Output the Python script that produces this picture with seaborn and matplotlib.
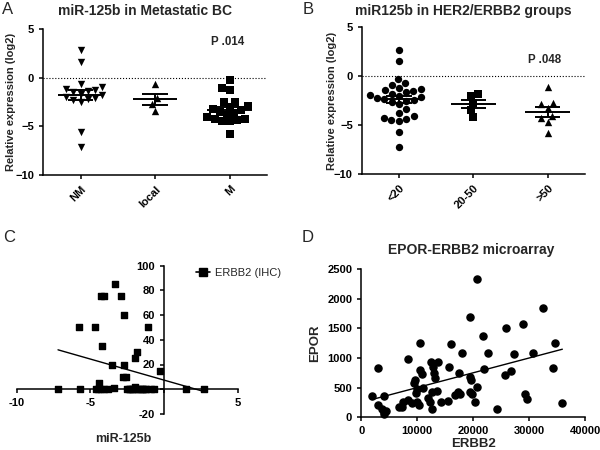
import numpy as np
import matplotlib
matplotlib.use("Agg")
import matplotlib.pyplot as plt
from matplotlib.lines import Line2D
import seaborn as sns

# Panel A: miR-125b by metastatic status
meta_groups = ["NM", "local", "M"]
nm_vals = [2.8, 1.6, -0.7, -1.0, -1.2, -1.3, -1.4, -1.5, -1.7, -1.8, -2.0, -2.1, -2.2, -2.3, -2.5, -5.6, -7.1]
local_vals = [-0.7, -2.1, -2.7, -3.4]
m_vals = [-0.2, -1.1, -1.3, -2.5, -2.5, -2.9, -3.0, -3.2, -3.3, -3.5, -3.6, -3.8, -4.0, -4.2, -4.3, -4.4, -4.5, -4.5, -5.8]

# Panel B / C: miR-125b and ERBB2 IHC score by HER2 group
her2_groups = ["<20", "20-50", ">50"]
low_mir = [2.7, 1.5, -0.3, -0.7, -0.9, -1.2, -1.3, -1.4, -1.5, -1.6, -1.8, -1.9, -2.0, -2.1, -2.2,
           -2.3, -2.4, -2.5, -2.6, -2.8, -3.4, -3.8, -4.1, -4.3, -4.4, -4.5, -4.6, -5.7, -7.2]
low_ihc = [0, 0, 15, 0, 0, 0, 0, 0, 0, 0, 0, 0, 2, 0, 0,
           0, 0, 0, 10, 10, 1, 0, 0, 0, 5, 0, 0, 0, 0]
mid_mir = [-1.85, -2.0, -2.7, -3.5, -4.2]
mid_ihc = [30, 25, 20, 20, 35]
high_mir = [-1.1, -2.75, -2.9, -3.3, -4.1, -4.3, -4.7, -5.8]
high_ihc = [50, 60, 75, 85, 75, 75, 50, 50]

# Panel D: microarray
d_erbb2 = [1900, 3090, 2920, 4110, 3690, 4110, 4460, 4000, 6670, 7260, 7440, 8450, 9050, 8450,
           9640, 9460, 9940, 9880, 9940, 10535, 10535, 10950, 11130, 10410, 12020, 12320, 12500,
           13800, 12910, 13035, 13215, 12620, 13510, 12620, 14225, 15770, 15600, 16070, 17260,
           17500, 17980, 16790, 17680, 19460, 19590, 19460, 19760, 20650, 20360, 21850, 21960,
           22730, 19460, 20770, 24220, 25770, 25890, 26790, 27380, 28870, 29340, 29580, 30770,
           32560, 34230, 34640, 35950]
d_epor = [365, 838, 208, 365, 140, 95, 111, 60, 179, 179, 264, 292, 236, 985,
          630, 584, 473, 405, 264, 1260, 799, 726, 500, 208, 321, 264, 940,
          929, 855, 743, 659, 432, 444, 140, 264, 845, 275, 1233, 432,
          753, 1091, 377, 400, 686, 630, 432, 390, 506, 264, 1373, 811,
          1081, 1700, 2330, 141, 715, 1503, 788, 1064, 1571, 388, 310, 1081,
          1841, 839, 1261, 248]

sns.set_style("ticks")
plt.rcParams["font.family"] = ["Liberation Sans", "DejaVu Sans"]
plt.rcParams["font.weight"] = "bold"
plt.rcParams["axes.linewidth"] = 1.1
plt.rcParams["xtick.major.width"] = 1.1
plt.rcParams["ytick.major.width"] = 1.1
plt.rcParams["xtick.major.size"] = 3
plt.rcParams["ytick.major.size"] = 3
plt.rcParams["xtick.labelsize"] = 8
plt.rcParams["ytick.labelsize"] = 8
plt.rcParams["xtick.color"] = "black"
plt.rcParams["ytick.color"] = "black"
plt.rcParams["axes.edgecolor"] = "black"

fig = plt.figure(figsize=(6, 4.5), dpi=100)


def mean_sem(ax, pos, vals):
    m = np.mean(vals)
    se = np.std(vals, ddof=1) / np.sqrt(len(vals))
    ax.hlines(m, pos - 0.3, pos + 0.3, color="black", lw=1.4, zorder=4)
    ax.hlines([m - se, m + se], pos - 0.17, pos + 0.17, color="black", lw=1.4, zorder=4)
    ax.vlines(pos, m - se, m + se, color="black", lw=1.4, zorder=4)


def dot_panel(ax, groups, series, markers, ptext, pxy, ylab_x):
    for i, (g, vals, mk) in enumerate(zip(groups, series, markers)):
        sns.swarmplot(x=[g] * len(vals), y=vals, order=groups, marker=mk, color="black",
                      size=5.3, ax=ax, zorder=3)
        mean_sem(ax, i, vals)
    ax.axhline(0, color="black", ls=":", lw=0.8)
    ax.set_xlim(-0.5, 2.5)
    ax.set_ylim(-10, 5)
    ax.set_yticks([-10, -5, 0, 5])
    ax.set_ylabel("Relative expression (log2)", fontsize=8, fontweight="bold")
    ax.yaxis.set_label_coords(ylab_x, 0.5)
    ax.set_xlabel("")
    ax.set_xticks(range(3))
    ax.set_xticklabels(groups, rotation=45, ha="right", rotation_mode="anchor")
    ax.text(pxy[0], pxy[1], ptext, ha="center", va="center", fontsize=8.3, fontweight="bold")
    sns.despine(ax=ax)


# A
ax_a = fig.add_axes([0.072, 0.611, 0.373, 0.325])
dot_panel(ax_a, meta_groups, [nm_vals, local_vals, m_vals], ["v", "^", "s"], "P .014", (1.97, 3.6), -0.122)

# B
ax_b = fig.add_axes([0.603, 0.613, 0.372, 0.327])
dot_panel(ax_b, her2_groups, [low_mir, mid_mir, high_mir], ["o", "s", "^"], "P .048", (1.95, 1.6), -0.11)

# C
c_mir = low_mir + mid_mir + high_mir
c_ihc = low_ihc + mid_ihc + high_ihc
ax_c = fig.add_axes([0.028, 0.08, 0.368, 0.33])
sns.regplot(x=c_mir, y=c_ihc, ax=ax_c, ci=None, marker="s", color="black",
            scatter_kws={"s": 24, "clip_on": False, "alpha": 1}, line_kws={"lw": 1.0})
ax_c.set_xlim(-10, 5)
ax_c.set_ylim(-20, 100)
ax_c.spines["left"].set_position(("data", 0))
ax_c.spines["bottom"].set_position(("data", 0))
sns.despine(ax=ax_c)
ax_c.set_xticks([-10, -5, 0, 5])
ax_c.set_xticklabels(["-10", "-5", "", "5"])
ax_c.set_yticks([-20, 0, 20, 40, 60, 80, 100])
ax_c.set_yticklabels(["-20", "", "20", "40", "60", "80", "100"])
ax_c.set_xlabel("miR-125b", fontsize=9, fontweight="bold")
ax_c.xaxis.set_label_coords(0.48, -0.13)
handle = Line2D([0], [0], color="black", marker="s", lw=1.2, markersize=5.5)
fig.legend(handles=[handle], labels=["ERBB2 (IHC)"], loc="center left",
           bbox_to_anchor=(0.31, 0.393), frameon=False, handlelength=1.3,
           handletextpad=0.4, prop={"size": 8, "weight": "normal"})

# D
ax_d = fig.add_axes([0.602, 0.0727, 0.373, 0.329])
sns.regplot(x=d_erbb2, y=d_epor, ax=ax_d, ci=None, marker="o", color="black",
            scatter_kws={"s": 26, "clip_on": False, "alpha": 1}, line_kws={"lw": 1.0})
ax_d.set_xlim(0, 40000)
ax_d.set_ylim(0, 2500)
ax_d.set_xticks([0, 10000, 20000, 30000, 40000])
ax_d.set_yticks([0, 500, 1000, 1500, 2000, 2500])
ax_d.set_xlabel("ERBB2", fontsize=9.5, fontweight="bold", labelpad=1)
ax_d.set_ylabel("EPOR", fontsize=9.5, fontweight="bold")
sns.despine(ax=ax_d)

# titles and panel letters
fig.text(145 / 600, 1 - 11 / 450, "miR-125b in Metastatic BC", ha="center", va="center", fontsize=10, fontweight="bold")
fig.text(463 / 600, 1 - 11 / 450, "miR125b in HER2/ERBB2 groups", ha="center", va="center", fontsize=10, fontweight="bold")
fig.text(471 / 600, 1 - 250 / 450, "EPOR-ERBB2 microarray", ha="center", va="center", fontsize=10, fontweight="bold")
for letter, x, y in [("A", 2, 10), ("B", 303, 10), ("C", 3, 238), ("D", 302, 238)]:
    fig.text(x / 600, 1 - y / 450, letter, ha="left", va="center", fontsize=12, fontweight="normal")

fig.savefig("out.png", dpi=100)
